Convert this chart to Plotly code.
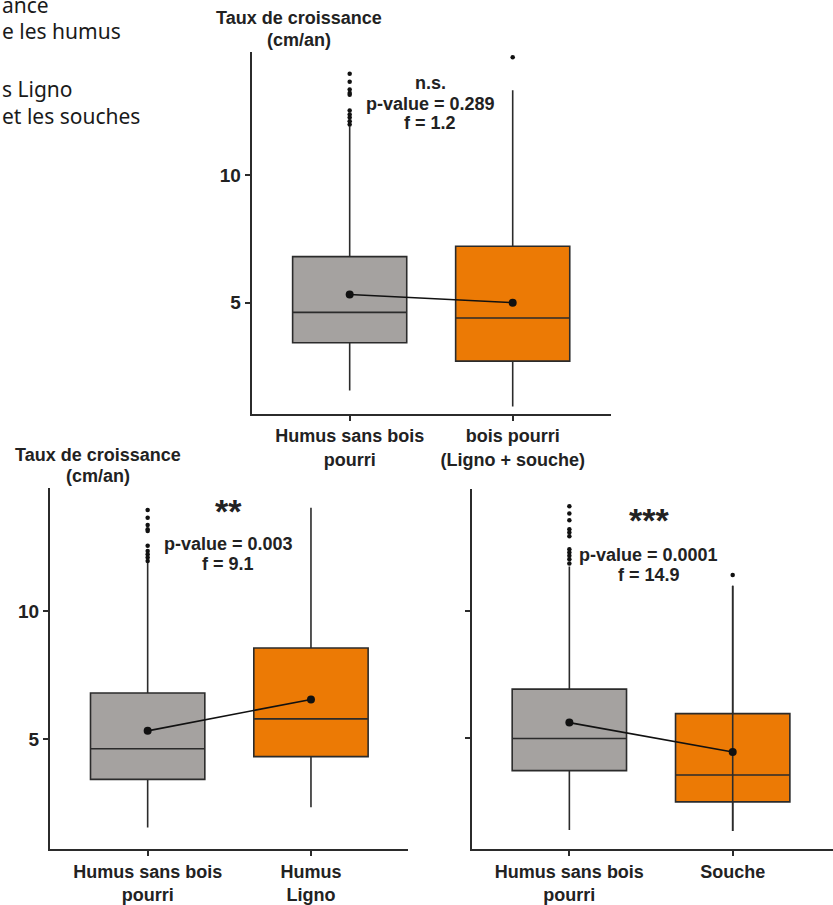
import plotly.graph_objects as go

# ---------------- data ----------------
panel_labels = [
    ["Humus sans bois<br>pourri", "bois pourri<br>(Ligno + souche)"],
    ["Humus sans bois<br>pourri", "Humus<br>Ligno"],
    ["Humus sans bois<br>pourri", "Souche"],
]
q1 = [[3.43, 2.71], [3.42, 4.31], [3.74, 2.52]]
median = [[4.62, 4.40], [4.62, 5.79], [5.00, 3.57]]
q3 = [[6.80, 7.21], [6.80, 8.56], [6.93, 5.97]]
lowerfence = [[1.56, 0.94], [1.54, 2.33], [1.42, 1.38]]
upperfence = [[11.90, 13.31], [11.90, 14.05], [11.72, 10.97]]
means = [[5.32, 5.00], [5.32, 6.55], [5.62, 4.47]]
outliers = [
    [[13.96, 13.65, 13.34, 13.21, 13.14, 12.52, 12.36, 12.25, 12.10, 11.97], [14.61]],
    [[13.96, 13.66, 13.38, 13.21, 13.14, 12.56, 12.36, 12.23, 12.10, 11.97], []],
    [[14.08, 13.80, 13.53, 13.18, 13.05, 12.91, 12.40, 12.27, 12.14, 12.01, 11.84], [11.39]],
]
signif = ["n.s.", "**", "***"]
pvalues = ["p-value = 0.289", "p-value = 0.003", "p-value = 0.0001"]
fvalues = ["f = 1.2", "f = 9.1", "f = 14.9"]
y_ticks = [5, 10]
y_title = ["Taux de croissance", "(cm/an)"]
caption_lines = ["ance", "e les humus", "s Ligno", "et les souches"]

# ---------------- layout helpers ----------------
W, H = 833, 905
def px_x(v):
    return v / W
def px_y(v):
    return 1 - v / H

FILL = ["#A5A2A0", "#EC7A05"]
LINE = "#2b2b2b"
FONT = "Liberation Sans"

domains_x = [(251.7, 611.0), (50.0, 408.3), (472.0, 833.0)]
domains_y = [(52.0, 415.5), (490.0, 852.7), (491.0, 852.7)]
ranges_x = [(-0.601, 1.603), (-0.598, 1.596), (-0.596, 1.614)]
ranges_y = [(0.655, 14.82), (0.70, 14.83), (0.68, 14.76)]
whisker_over = [False, False, True]

fig = go.Figure()
for p in range(3):
    xa = "x" if p == 0 else f"x{p+1}"
    ya = "y" if p == 0 else f"y{p+1}"
    for c in range(2):
        fig.add_trace(go.Box(
            x=[c], q1=[q1[p][c]], median=[median[p][c]], q3=[q3[p][c]],
            lowerfence=[lowerfence[p][c]], upperfence=[upperfence[p][c]],
            width=0.70, whiskerwidth=0, fillcolor=FILL[c],
            line=dict(color=LINE, width=1.6), boxpoints=False,
            xaxis=xa, yaxis=ya, showlegend=False, hoverinfo="skip"))
        if whisker_over[p] and c == 1:
            fig.add_trace(go.Scatter(
                x=[c, c], y=[lowerfence[p][c], upperfence[p][c]], mode="lines",
                line=dict(color=LINE, width=1.6), xaxis=xa, yaxis=ya,
                showlegend=False, hoverinfo="skip"))
        if outliers[p][c]:
            fig.add_trace(go.Scatter(
                x=[c] * len(outliers[p][c]), y=outliers[p][c], mode="markers",
                marker=dict(color="#111", size=4.5), xaxis=xa, yaxis=ya,
                showlegend=False, hoverinfo="skip"))
    fig.add_trace(go.Scatter(
        x=[0, 1], y=means[p], mode="lines+markers",
        line=dict(color="#111", width=1.6), marker=dict(color="#111", size=8),
        xaxis=xa, yaxis=ya, showlegend=False, hoverinfo="skip"))

    axis_common = dict(showline=True, linecolor=LINE, linewidth=2, ticks="outside",
                       tickcolor=LINE, tickwidth=1.5, showgrid=False, zeroline=False)
    fig.update_layout(**{
        ("xaxis" if p == 0 else f"xaxis{p+1}"): dict(
            domain=[px_x(domains_x[p][0]), px_x(domains_x[p][1])],
            range=list(ranges_x[p]), anchor=ya, tickvals=[0, 1],
            ticktext=panel_labels[p], ticklen=5,
            tickfont=dict(family=FONT, size=18, color="#222", weight="bold"),
            **axis_common),
        ("yaxis" if p == 0 else f"yaxis{p+1}"): dict(
            domain=[px_y(domains_y[p][1]), px_y(domains_y[p][0])],
            range=list(ranges_y[p]), anchor=xa, tickvals=y_ticks,
            ticktext=[str(t) for t in y_ticks], ticklen=5,
            showticklabels=(p != 2),
            tickfont=dict(family=FONT, size=19, color="#222", weight="bold"),
            **axis_common),
    })

annotations = []
def ann(text, x, y, size=18, family=FONT, bold=True, xanchor="center", color="#222"):
    annotations.append(dict(
        text=text, x=px_x(x), y=px_y(y), xref="paper", yref="paper",
        xanchor=xanchor, yanchor="middle", showarrow=False,
        font=dict(family=family, size=size, color=color,
                  weight="bold" if bold else "normal")))

# y-axis titles
ann(y_title[0], 299, 18)
ann(y_title[1], 299, 40)
ann(y_title[0], 98, 457)
ann(y_title[1], 98, 478)

# statistics annotations
stat_x = [430, 228, 648.5]
sig_y = [83, 513, 522]
p_y = [104, 546, 557]
f_y = [124, 567, 578]
for p in range(3):
    ann(signif[p], stat_x[p], sig_y[p], size=(18 if p == 0 else 34))
    ann(pvalues[p], stat_x[p], p_y[p])
    ann(fvalues[p], stat_x[p], f_y[p])

# cut-off caption at top-left
cap_y = [5, 31, 89, 117]
for t, yy in zip(caption_lines, cap_y):
    ann(t, 0, yy, size=21, family="Noto Sans", bold=False, xanchor="left", color="#1a1a1a")

fig.update_layout(
    width=W, height=H, margin=dict(l=0, r=0, t=0, b=0),
    paper_bgcolor="white", plot_bgcolor="white",
    annotations=annotations, showlegend=False,
)

fig.write_html(
    "out.html",
    config={"displayModeBar": False},
    post_script="document.body.style.margin='0';document.body.style.overflow='hidden';",
)
